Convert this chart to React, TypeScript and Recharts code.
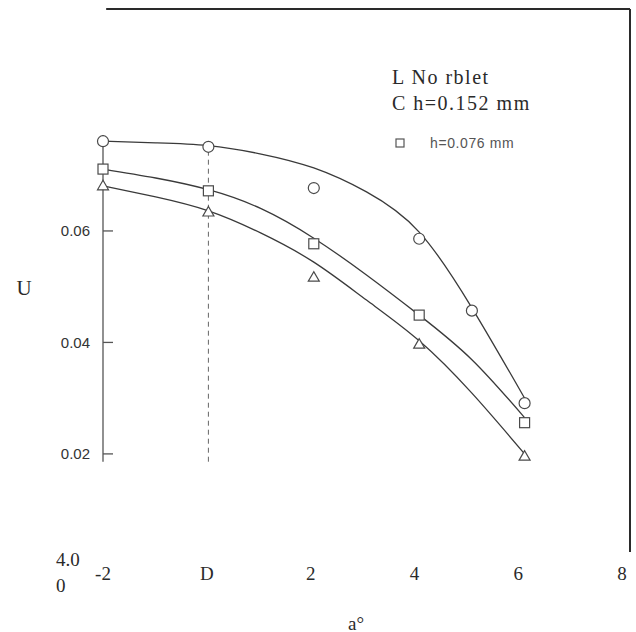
import {
  ComposedChart,
  Line,
  Scatter,
  XAxis,
  YAxis,
  ReferenceLine,
} from 'recharts';

// angle of attack (deg) and U
const circleA = [-2, 0, 2, 4, 5, 6];
const circleU = [0.0761, 0.0751, 0.0677, 0.0586, 0.0457, 0.0291];
const squareA = [-2, 0, 2, 4, 6];
const squareU = [0.0711, 0.0672, 0.0577, 0.0449, 0.0256];
const triangleA = [-2, 0, 2, 4, 6];
const triangleU = [0.0681, 0.0634, 0.0517, 0.0397, 0.0196];

// fitted curves drawn through the points
const fitA = [-2, -1, 0, 1, 2, 3, 4, 5, 6];
const fitCircle = [0.0761, 0.0758, 0.0753, 0.0738, 0.0713, 0.067, 0.0598, 0.0462, 0.03];
const fitSquare = [0.0711, 0.0695, 0.0674, 0.064, 0.0587, 0.0521, 0.0449, 0.0369, 0.0265];
const fitTriangle = [0.0681, 0.0661, 0.0636, 0.0596, 0.0544, 0.0476, 0.0403, 0.0309, 0.02];

const xTicks = [-2, 0, 2, 4, 6, 8];
const xTickLabels = ['-2', 'D', '2', '4', '6', '8'];
const yTicks = [0.02, 0.04, 0.06];

const zip = (xs: number[], ys: number[]) => xs.map((a, i) => ({ a, u: ys[i] }));

const INK = '#2a2a2a';
const MARK = '#4a4a4a';
const SERIF = '"Liberation Serif", "Times New Roman", serif';
const SANS = '"Liberation Sans", Arial, sans-serif';
const PLOT_LEFT = 103;

const CircleMark = ({ cx, cy }: any) => (
  <circle cx={cx} cy={cy} r={5.5} fill="#fff" stroke={MARK} strokeWidth={1.2} />
);
const SquareMark = ({ cx, cy }: any) => (
  <rect x={cx - 5} y={cy - 5} width={10} height={10} fill="#fff" stroke={MARK} strokeWidth={1.2} />
);
const TriangleMark = ({ cx, cy }: any) => (
  <polygon
    points={`${cx},${cy - 5.5} ${cx - 5.5},${cy + 4} ${cx + 5.5},${cy + 4}`}
    fill="#fff"
    stroke={MARK}
    strokeWidth={1.2}
  />
);

// the scanned tick labels sit a little left of their ticks, more so to the right
const XTick = ({ x, y, payload }: any) => (
  <text
    x={PLOT_LEFT + (x - PLOT_LEFT) * 0.985}
    y={y + 21}
    textAnchor="middle"
    dominantBaseline="central"
    fontFamily={SERIF}
    fontSize={19}
    fill={INK}
  >
    {xTickLabels[xTicks.indexOf(payload.value)]}
  </text>
);

export default function App() {
  return (
    <div style={{ position: 'absolute', left: 0, top: 0, width: 636, height: 632, background: '#fff' }}>
      <ComposedChart width={636} height={632} margin={{ top: 8, right: 6, bottom: 50, left: 43 }}>
        <XAxis
          dataKey="a"
          type="number"
          domain={[-2, 8]}
          ticks={xTicks}
          interval={0}
          axisLine={false}
          tickLine={false}
          tickSize={0}
          tickMargin={0}
          height={30}
          tick={<XTick />}
        />
        <YAxis
          type="number"
          domain={[0.0024, 0.1]}
          ticks={yTicks}
          tickFormatter={(v: number) => v.toFixed(2)}
          axisLine={false}
          tickLine={false}
          tickMargin={7}
          width={60}
          tick={{ fontFamily: SANS, fontSize: 15, fill: '#333' }}
        />

        {/* frame and partial axis */}
        <ReferenceLine segment={[{ x: -1.94, y: 0.0998 }, { x: 8, y: 0.0998 }]} stroke={INK} strokeWidth={2} />
        <ReferenceLine segment={[{ x: 8, y: 0.0024 }, { x: 8, y: 0.0998 }]} stroke={INK} strokeWidth={2} />
        <ReferenceLine segment={[{ x: -2, y: 0.0186 }, { x: -2, y: 0.0772 }]} stroke="#555" strokeWidth={1.3} />
        <ReferenceLine
          segment={[{ x: 0, y: 0.0186 }, { x: 0, y: 0.0763 }]}
          stroke="#666"
          strokeWidth={1}
          strokeDasharray="5 4"
        />
        {yTicks.map((t) => (
          <ReferenceLine key={t} segment={[{ x: -2, y: t }, { x: -1.81, y: t }]} stroke="#555" strokeWidth={1.3} />
        ))}

        <Line data={zip(fitA, fitCircle)} dataKey="u" type="natural" stroke="#3a3a3a" strokeWidth={1.3} dot={false} isAnimationActive={false} />
        <Line data={zip(fitA, fitSquare)} dataKey="u" type="natural" stroke="#3a3a3a" strokeWidth={1.3} dot={false} isAnimationActive={false} />
        <Line data={zip(fitA, fitTriangle)} dataKey="u" type="natural" stroke="#3a3a3a" strokeWidth={1.3} dot={false} isAnimationActive={false} />

        <Scatter data={zip(circleA, circleU)} dataKey="u" shape={<CircleMark />} isAnimationActive={false} />
        <Scatter data={zip(squareA, squareU)} dataKey="u" shape={<SquareMark />} isAnimationActive={false} />
        <Scatter data={zip(triangleA, triangleU)} dataKey="u" shape={<TriangleMark />} isAnimationActive={false} />
      </ComposedChart>

      <svg width={636} height={632} style={{ position: 'absolute', left: 0, top: 0, pointerEvents: 'none' }}>
        <g fontFamily={SERIF} fill={INK} dominantBaseline="central">
          <text x={392} y={77} fontSize={20} letterSpacing={1.5}>L No rblet</text>
          <text x={392} y={103} fontSize={20} letterSpacing={1.5}>C h=0.152 mm</text>
          <text x={24} y={288} fontSize={21} textAnchor="middle">U</text>
          <text x={56} y={559} fontSize={19}>4.0</text>
          <text x={56} y={585} fontSize={19}>0</text>
          <text x={348} y={623} fontSize={19}>a°</text>
        </g>
        <rect x={396} y={139} width={8} height={8} fill="#fff" stroke="#555" strokeWidth={1.2} />
        <text x={430} y={143} fontFamily={SANS} fontSize={14} fill="#555" dominantBaseline="central" letterSpacing={0.6}>
          h=0.076 mm
        </text>
      </svg>
    </div>
  );
}
